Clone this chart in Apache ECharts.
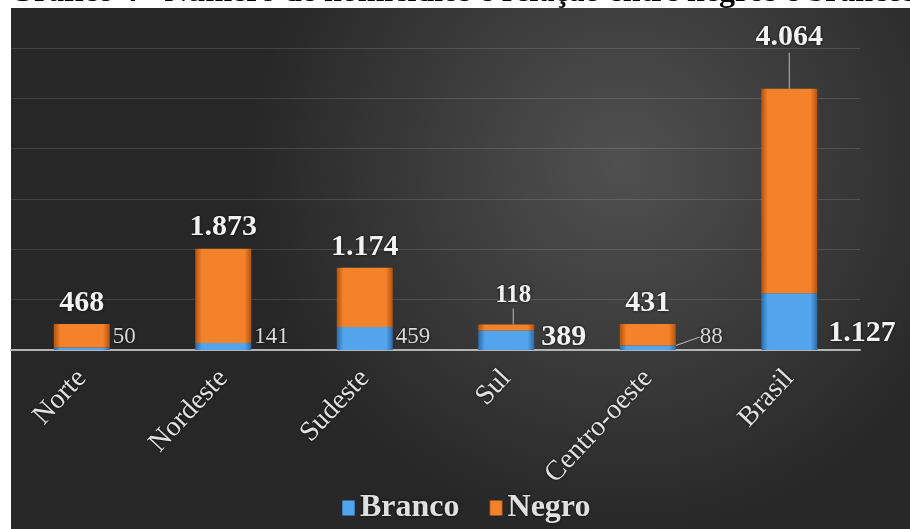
<!DOCTYPE html>
<html>
<head>
<meta charset="utf-8">
<script src="https://cdn.jsdelivr.net/npm/echarts@6/dist/echarts.min.js"></script>
<style>
html,body{margin:0;padding:0;background:#fff;}
#chart{width:910px;height:529px;}
</style>
</head>
<body>
<div id="chart"></div>
<script>
const titleText = 'Gráfico 4 - Número de homicídios e relação entre negros e brancos';
const categories = ['Norte', 'Nordeste', 'Sudeste', 'Sul', 'Centro-oeste', 'Brasil'];
const branco = [50, 141, 459, 389, 88, 1127];
const negro = [468, 1873, 1174, 118, 431, 4064];
const yTicks = [0, 1000, 2000, 3000, 4000, 5000, 6000];

const fmt = v => v >= 1000 ? Math.floor(v / 1000) + '.' + String(v % 1000).padStart(3, '0') : String(v);
const SERIF = '"Liberation Serif", "Times New Roman", serif';

// label styling per bar (style only)
const brancoBoldIdx = [3, 5];
const brancoLineIdx = [4];
const negroLineIdx = [3, 5];

const chart = echarts.init(document.getElementById('chart'), null, {renderer: 'canvas'});

function hGrad(edge, mid) {
  return new echarts.graphic.LinearGradient(0, 0, 1, 0, [
    {offset: 0, color: edge}, {offset: 0.12, color: mid}, {offset: 0.88, color: mid}, {offset: 1, color: edge}
  ]);
}

const option = {
  backgroundColor: '#ffffff',
  animation: false,
  graphic: [
    {
      type: 'rect', z: -10, silent: true,
      shape: {x: 11, y: 8, width: 899, height: 521},
      style: {
        fill: new echarts.graphic.RadialGradient(0.68, 0.3, 0.72, [
          {offset: 0, color: '#505050'}, {offset: 1, color: '#272727'}
        ])
      }
    },
    {
      type: 'text', z: 10, silent: true,
      x: 9, y: 9,
      style: {
        text: titleText, fill: '#000', font: 'bold 32px ' + SERIF,
        verticalAlign: 'bottom', align: 'left'
      }
    }
  ],
  grid: {left: 11, right: 50, top: 48, bottom: 179, containLabel: false},
  legend: {
    bottom: 0, left: 337,
    icon: 'rect', itemWidth: 13, itemHeight: 15, itemGap: 30,
    textStyle: {color: '#e0e0e0', fontFamily: SERIF, fontWeight: 'bold', fontSize: 32,
      textShadowColor: 'rgba(0,0,0,0.8)', textShadowBlur: 3},
    data: ['Branco', 'Negro']
  },
  xAxis: {
    type: 'category', data: categories,
    axisLine: {lineStyle: {color: '#b4b4b4', width: 2}},
    axisTick: {show: false},
    axisLabel: {rotate: 47, margin: 24, color: '#e2e2e2', fontFamily: SERIF, fontSize: 28,
      textShadowColor: 'rgba(0,0,0,0.8)', textShadowBlur: 3}
  },
  yAxis: {
    type: 'value', min: yTicks[0], max: yTicks[yTicks.length - 1], interval: yTicks[1] - yTicks[0],
    axisLabel: {show: false}, axisLine: {show: false}, axisTick: {show: false},
    splitLine: {lineStyle: {color: 'rgba(255,255,255,0.13)', width: 1}}
  },
  series: [
    {
      name: 'Branco', type: 'bar', stack: 'total', barWidth: 56,
      itemStyle: {color: hGrad('#2c6aa8', '#52a5ec')},
      data: branco.map((v, i) => ({
        value: v,
        label: brancoBoldIdx.includes(i)
          ? {fontWeight: 'bold', fontSize: 30, color: '#f2f2f2'}
          : {fontWeight: 'normal', fontSize: 23, color: '#d8d8d8'},
        labelLine: {show: brancoLineIdx.includes(i), lineStyle: {color: '#bbb', width: 1}}
      })),
      label: {show: true, position: 'right', fontFamily: SERIF, formatter: p => fmt(p.value),
        textShadowColor: 'rgba(0,0,0,0.8)', textShadowBlur: 3},
      labelLine: {show: false}
    },
    {
      name: 'Negro', type: 'bar', stack: 'total', barWidth: 56,
      itemStyle: {color: hGrad('#b3520c', '#f4822a')},
      data: negro.map((v, i) => ({
        value: v,
        label: i === 3 ? {fontSize: 25} : {fontSize: 30},
        labelLine: {show: negroLineIdx.includes(i), lineStyle: {color: '#bbb', width: 1}}
      })),
      label: {show: true, position: 'top', distance: 6, fontFamily: SERIF, fontWeight: 'bold',
        color: '#f2f2f2', formatter: p => fmt(p.value),
        textShadowColor: 'rgba(0,0,0,0.8)', textShadowBlur: 3},
      labelLine: {show: false}
    }
  ],
  labelLayout: function (p) {
    const r = p.rect;
    if (p.seriesIndex === 0) {
      let extra = 3;
      if (brancoLineIdx.includes(p.dataIndex)) extra = 24;
      else if (p.dataIndex === 5) extra = 11;
      else if (brancoBoldIdx.includes(p.dataIndex)) extra = 7;
      const up = p.dataIndex === 5 ? 17 : 13;
      return {x: r.x + r.width + extra, y: r.y + r.height - up, align: 'left', verticalAlign: 'middle'};
    }
    if (p.dataIndex === 5) return {dy: -30};
    if (p.dataIndex === 3) return {dx: 7, dy: -10};
    return {};
  }
};
chart.setOption(option);
</script>
</body>
</html>
